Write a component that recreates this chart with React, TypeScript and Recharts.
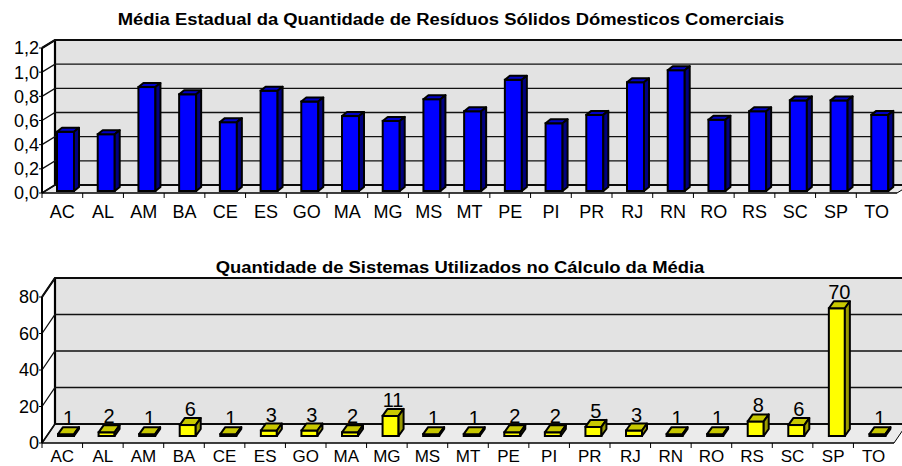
import React from 'react'
import { BarChart, Bar, XAxis, YAxis, CartesianGrid, ReferenceArea } from 'recharts'

const states = ['AC', 'AL', 'AM', 'BA', 'CE', 'ES', 'GO', 'MA', 'MG', 'MS', 'MT', 'PE', 'PI', 'PR', 'RJ', 'RN', 'RO', 'RS', 'SC', 'SP', 'TO']
const mediaValues = [0.49, 0.47, 0.86, 0.8, 0.57, 0.83, 0.74, 0.62, 0.58, 0.76, 0.66, 0.92, 0.56, 0.63, 0.9, 1.0, 0.59, 0.66, 0.75, 0.75, 0.63]
const sistemasValues = [1, 2, 1, 6, 1, 3, 3, 2, 11, 1, 1, 2, 2, 5, 3, 1, 1, 8, 6, 70, 1]
const mediaTicks = [0, 0.2, 0.4, 0.6, 0.8, 1.0, 1.2]
const sistemasTicks = [0, 20, 40, 60, 80]

const mediaData = states.map((uf, i) => ({ uf, value: mediaValues[i] }))
const sistemasData = states.map((uf, i) => ({ uf, value: sistemasValues[i] }))

const FONT = '"Liberation Sans", Arial, sans-serif'

// 3D box behind the bars: back wall, floor, left wall edges
const makeBox = (dx: number, dy: number) => (props: any) => {
  const { x, y, width, height } = props
  const x2 = x + width
  const y2 = y + height
  return (
    <g>
      <polygon points={`${x + dx},${y - dy} ${x2 + dx},${y - dy} ${x2 + dx},${y2 - dy} ${x + dx},${y2 - dy}`} fill="#e3e3e3" />
      <polygon points={`${x},${y2} ${x2},${y2} ${x2 + dx},${y2 - dy} ${x + dx},${y2 - dy}`} fill="#ebebeb" />
      <path d={`M${x},${y} L${x + dx},${y - dy} L${x2 + dx},${y - dy}`} stroke="#000" strokeWidth={2.2} fill="none" />
      <path d={`M${x + dx},${y - dy} L${x + dx},${y2 - dy} L${x2 + dx},${y2 - dy}`} stroke="#000" strokeWidth={2.2} fill="none" />
      <path d={`M${x},${y2} L${x + dx},${y2 - dy}`} stroke="#000" strokeWidth={1.5} fill="none" />
      <path d={`M${x2},${y2} L${x2 + dx},${y2 - dy}`} stroke="#000" strokeWidth={1} fill="none" />
    </g>
  )
}

const makeGridLine = (dx: number, dy: number) => (p: any) => (
  <path
    key={p.key}
    d={`M${p.x1},${p.y1} L${p.x1 + dx},${p.y1 - dy} L${p.x2 + dx},${p.y1 - dy}`}
    stroke="#111"
    strokeWidth={1.3}
    fill="none"
  />
)

type BarLook = { sx: number; sy: number; dx: number; dy: number; front: string; top: string; side: string; label?: boolean }

const makeBar = (o: BarLook) => (props: any) => {
  const { x, y, width, height, payload } = props
  const fx = x + o.sx
  const ft = y + o.sy
  const fb = y + height + o.sy
  const w = width
  return (
    <g>
      <rect x={fx} y={ft} width={w} height={Math.max(fb - ft, 0)} fill={o.front} stroke="#000" strokeWidth={2} />
      <polygon points={`${fx},${ft} ${fx + o.dx},${ft + o.dy} ${fx + w + o.dx},${ft + o.dy} ${fx + w},${ft}`} fill={o.top} stroke="#000" strokeWidth={2} strokeLinejoin="round" />
      <polygon points={`${fx + w},${ft} ${fx + w + o.dx},${ft + o.dy} ${fx + w + o.dx},${fb + o.dy} ${fx + w},${fb}`} fill={o.side} stroke="#000" strokeWidth={2} strokeLinejoin="round" />
      {o.label && (
        <text x={fx + (w + o.dx) / 2} y={ft + o.dy - 2} textAnchor="middle" fontSize={20} fontFamily={FONT} fill="#000">
          {payload.value}
        </text>
      )}
    </g>
  )
}

const makeCategoryTick = (gap: number, size: number) => (props: any) => {
  const { x, y, payload } = props
  const half = payload && payload.offset ? payload.offset : 20.3
  return (
    <g>
      <line x1={x - half} y1={y - gap} x2={x - half} y2={y - gap + 5} stroke="#000" strokeWidth={1} />
      <text x={x} y={y} dy="0.71em" textAnchor="middle" fontSize={size} fontFamily={FONT} fill="#000">
        {payload.value}
      </text>
    </g>
  )
}

const titleStyle: React.CSSProperties = {
  position: 'absolute',
  width: 902,
  textAlign: 'center',
  fontFamily: FONT,
  fontWeight: 'bold',
  fontSize: 16,
  lineHeight: '16px',
  color: '#000',
  whiteSpace: 'nowrap',
  transform: 'scaleX(1.15)',
  transformOrigin: 'center',
}

export default function App() {
  return (
    <div style={{ position: 'absolute', left: 0, top: 0, width: 902, height: 466, background: '#fff', overflow: 'hidden' }}>
      <div style={{ ...titleStyle, left: 0, top: 12 }}>Média Estadual da Quantidade de Resíduos Sólidos Dómesticos Comerciais</div>
      <div style={{ position: 'absolute', left: 0, top: 0 }}>
        <BarChart width={902} height={235} data={mediaData} margin={{ top: 48, right: 5, bottom: 12, left: 0 }} barSize={17}>
          <ReferenceArea y1={0} y2={1.2} ifOverflow="visible" shape={makeBox(13, 8)} zIndex={-200} />
          <CartesianGrid vertical={false} horizontal={makeGridLine(13, 8)} zIndex={-100} />
          <XAxis
            dataKey="uf"
            interval={0}
            tickLine={false}
            tickSize={6}
            tickMargin={6}
            axisLine={{ stroke: '#000', strokeWidth: 1.5 }}
            tick={makeCategoryTick(12, 18)}
          />
          <YAxis
            width={42}
            domain={[0, 1.2]}
            ticks={mediaTicks}
            interval={0}
            tickFormatter={(v: number) => v.toFixed(1).replace('.', ',')}
            tickSize={3}
            tickMargin={0}
            tickLine={{ stroke: '#000' }}
            axisLine={{ stroke: '#000', strokeWidth: 2 }}
            tick={{ fontSize: 18, fontFamily: FONT, fill: '#000' }}
          />
          <Bar
            dataKey="value"
            isAnimationActive={false}
            shape={makeBar({ sx: 3, sy: -2, dx: 5, dy: -4, front: '#0000ff', top: '#0000c8', side: '#000080' })}
          />
        </BarChart>
      </div>

      <div style={{ ...titleStyle, left: 9, top: 260 }}>Quantidade de Sistemas Utilizados no Cálculo da Média</div>
      <div style={{ position: 'absolute', left: 0, top: 235 }}>
        <BarChart width={902} height={231} data={sistemasData} margin={{ top: 62, right: 8, bottom: 0, left: 0 }} barSize={16}>
          <ReferenceArea y1={0} y2={80} ifOverflow="visible" shape={makeBox(13, 19)} zIndex={-200} />
          <CartesianGrid vertical={false} horizontal={makeGridLine(13, 19)} zIndex={-100} />
          <XAxis
            dataKey="uf"
            height={23}
            interval={0}
            tickLine={false}
            tickSize={6}
            tickMargin={1}
            axisLine={{ stroke: '#000', strokeWidth: 1.5 }}
            tick={makeCategoryTick(7, 17)}
          />
          <YAxis
            width={42}
            domain={[0, 80]}
            ticks={sistemasTicks}
            interval={0}
            tickSize={3}
            tickMargin={0}
            tickLine={{ stroke: '#000' }}
            axisLine={{ stroke: '#000', strokeWidth: 2 }}
            tick={{ fontSize: 18, fontFamily: FONT, fill: '#000' }}
          />
          <Bar
            dataKey="value"
            isAnimationActive={false}
            shape={makeBar({ sx: 4, sy: -7, dx: 5, dy: -7, front: '#ffff00', top: '#c8c800', side: '#9a9a00', label: true })}
          />
        </BarChart>
      </div>
    </div>
  )
}
